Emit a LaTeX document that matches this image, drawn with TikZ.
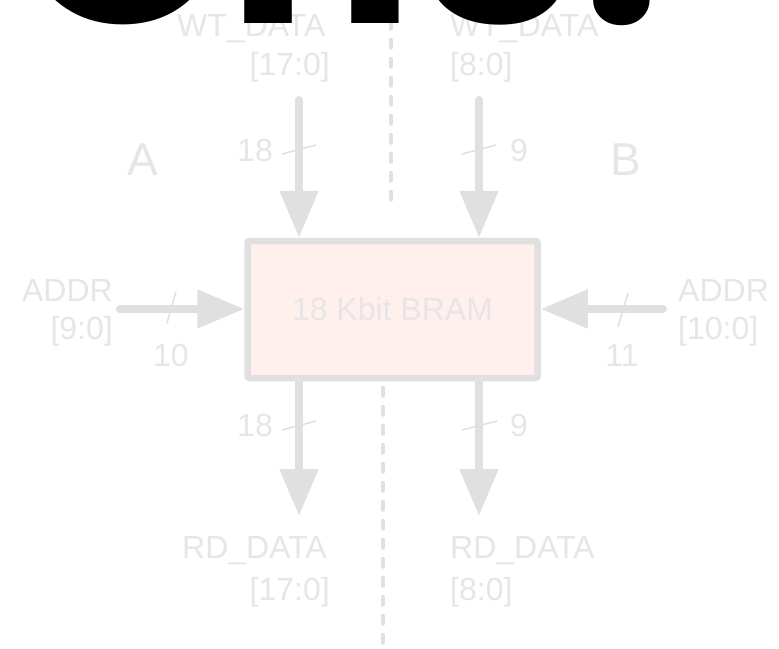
\documentclass[tikz,border=0pt]{standalone}
\usepackage{fontspec}
\setmainfont{Liberation Sans}
\newfontfamily\bigfont{Poppins}
\usetikzlibrary{arrows.meta}
\definecolor{lg}{HTML}{E0E0E0}
\definecolor{lt}{HTML}{E6E6E6}
\definecolor{pinkfill}{HTML}{FFF0EE}
\begin{document}
\begin{tikzpicture}[x=1pt,y=-1pt,
  lbl/.style={text=lt, font=\fontsize{32}{36}\selectfont, inner sep=0pt},
  lblbig/.style={text=lt, font=\fontsize{46}{50}\selectfont, inner sep=0pt},
  bus/.style={draw=lg, line width=8pt, line cap=round, -{Triangle[length=47pt,width=37pt]}},
  tickmark/.style={draw=lg, line width=1.5pt},
  sepline/.style={draw=lg, line width=4.5pt, line cap=round, dash pattern=on 7.5pt off 11.5pt},
  bram/.style={draw=lg, line width=6.5pt, fill=pinkfill, minimum width=290pt, minimum height=137pt,
    rounded corners=2pt, text=lt, font=\fontsize{32}{36}\selectfont},
  glow/.style={fill=black, fill opacity=0.0018}
]
\useasboundingbox (0,0) rectangle (779,648);
\fill[white] (0,0) rectangle (779,648);

% soft glow around the block
\foreach \r in {3,6,...,45}{
  \fill[glow, rounded corners=\r pt] (247.5-\r,241-\r) rectangle (537.5+\r,378+\r);
}

% separators
\coordinate (s1) at (391,2);
\coordinate (s2) at (391,205);
\coordinate (s3) at (383,388);
\coordinate (s4) at (383,650);
\draw[sepline] (s1) -- (s2);
\draw[sepline] (s3) -- (s4);

% block
\node[bram] (bram) at (392.5,309.5) {18 Kbit BRAM};

% buses
\coordinate (wa) at (299,100);
\coordinate (wb) at (479,100);
\coordinate (aa) at (120,309);
\coordinate (ab) at (663,309);
\coordinate (ra) at (299,516);
\coordinate (rb) at (479,516);
\draw[bus] (wa) -- (wa |- bram.north);
\draw[bus] (wb) -- (wb |- bram.north);
\draw[bus] (aa) -- (aa -| bram.west);
\draw[bus] (ab) -- (ab -| bram.east);
\draw[bus] (bram.south -| ra) -- (ra);
\draw[bus] (bram.south -| rb) -- (rb);

% width ticks
\draw[tickmark] (282,154) -- (316,145);
\draw[tickmark] (462,154) -- (496,145);
\draw[tickmark] (167,323) -- (176,292);
\draw[tickmark] (618,327) -- (628,293);
\draw[tickmark] (282,430) -- (316,421);
\draw[tickmark] (462,430) -- (497,421);

% labels
\node[lbl, anchor=base west] (wtl) at (177,36) {WT\_DATA};
\node[lbl, anchor=base east] (wtlb) at (330,75) {[17:0]};
\node[lbl, anchor=base west] (wtr) at (450,36) {WT\_DATA};
\node[lbl, anchor=base west] (wtrb) at (450,75) {[8:0]};
\node[lblbig, anchor=base] (pa) at (143,175) {A};
\node[lblbig, anchor=base] (pb) at (626,175) {B};
\node[lbl, anchor=base east] (n1) at (273,161) {18};
\node[lbl, anchor=base west] (n2) at (510,161) {9};
\node[lbl, anchor=base east] (adl) at (113,301) {ADDR};
\node[lbl, anchor=base east] (adlb) at (113,339) {[9:0]};
\node[lbl, anchor=base] (n3) at (171,366) {10};
\node[lbl, anchor=base west] (adr) at (678,301) {ADDR};
\node[lbl, anchor=base west] (adrb) at (678,339) {[10:0]};
\node[lbl, anchor=base] (n4) at (622,366) {11};
\node[lbl, anchor=base east] (n5) at (273,436) {18};
\node[lbl, anchor=base west] (n6) at (510,436) {9};
\node[lbl, anchor=base west] (rdl) at (182,558) {RD\_DATA};
\node[lbl, anchor=base east] (rdlb) at (330,600) {[17:0]};
\node[lbl, anchor=base west] (rdr) at (450,558) {RD\_DATA};
\node[lbl, anchor=base west] (rdrb) at (450,600) {[8:0]};

% big title, mostly cut off
\node[anchor=base west, inner sep=0pt, text=black, font=\bigfont\bfseries\fontsize{278}{278}\selectfont] (title) at (15,23) {Ch3.};
\end{tikzpicture}
\end{document}
